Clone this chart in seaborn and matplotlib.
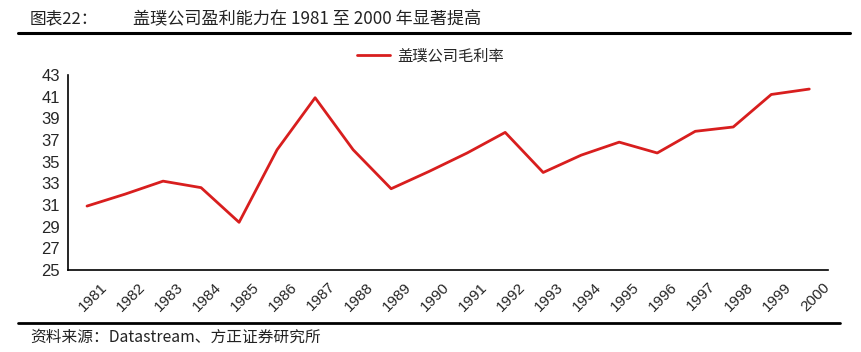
import pandas as pd
import seaborn as sns
import matplotlib.pyplot as plt
from matplotlib.lines import Line2D
from matplotlib.transforms import ScaledTranslation

years = [str(y) for y in range(1981, 2001)]
gross_margin = [30.9, 32.0, 33.2, 32.6, 29.4, 36.1, 40.9, 36.1, 32.5, 34.1,
                35.8, 37.7, 34.0, 35.6, 36.8, 35.8, 37.8, 38.2, 41.2, 41.7]
y_ticks = list(range(25, 44, 2))

df = pd.DataFrame({"year": years, "margin": gross_margin})

sns.set_theme(style="white")
plt.rcParams["font.family"] = ["Liberation Sans", "Noto Sans CJK SC", "DejaVu Sans"]

fig = plt.figure(figsize=(8.61, 3.52), dpi=100)
ax = fig.add_axes([0.079, 0.233, 0.883, 0.554])

sns.lineplot(data=df, x="year", y="margin", ax=ax, color="#d81e1e", linewidth=2.0,
             legend=False, sort=False)

ax.set_xlim(-0.5, len(years) - 0.5)
ax.set_ylim(25, 43)
ax.set_yticks(y_ticks)
ax.set_xticks(range(len(years)))
ax.set_xticklabels(years, rotation=45, ha="right", rotation_mode="anchor", fontsize=11)
ax.set_xticks([i - 0.5 for i in range(len(years) + 1)], minor=True)
ax.tick_params(axis="x", which="major", length=0, pad=7)
ax.tick_params(axis="x", which="minor", length=4, width=1, color="black", direction="out")
ax.tick_params(axis="y", length=4, width=1, color="black", direction="out", labelsize=12, pad=2)
ax.set_xlabel("")
ax.set_ylabel("")
for side in ["top", "right"]:
    ax.spines[side].set_visible(False)
for side in ["left", "bottom"]:
    ax.spines[side].set_color("black")
    ax.spines[side].set_linewidth(1.2)
for lab in ax.get_xticklabels():
    lab.set_transform(lab.get_transform() + ScaledTranslation(0.13, 0, fig.dpi_scale_trans))

# legend
handle = Line2D([0], [0], color="#d81e1e", linewidth=2.0)
fig.legend([handle], ["盖璞公司毛利率"], loc="center", bbox_to_anchor=(0.5, 0.84),
           frameon=False, handlelength=2.2, handletextpad=0.5,
           prop={"family": ["Noto Sans CJK SC"], "size": 11})

# header and footer
cjk = ["Noto Sans CJK SC", "DejaVu Sans"]
fig.text(30 / 861, 1 - 19 / 352, "图表22：", family=cjk, fontsize=12, va="center", color="#222222")
fig.text(133 / 861, 1 - 19 / 352, "盖璞公司盈利能力在 1981 至 2000 年显著提高", family=cjk,
         fontsize=12.3, va="center", color="#222222")
fig.add_artist(Line2D([18 / 861, 850 / 861], [1 - 33 / 352] * 2, color="black", linewidth=2.2))
fig.add_artist(Line2D([18 / 861, 840 / 861], [1 - 323 / 352] * 2, color="black", linewidth=2.0))
fig.text(30 / 861, 1 - 337 / 352, "资料来源：Datastream、方正证券研究所", family=cjk,
         fontsize=11.3, va="center", style="italic", color="#222222")

fig.savefig("out.png", dpi=100)
